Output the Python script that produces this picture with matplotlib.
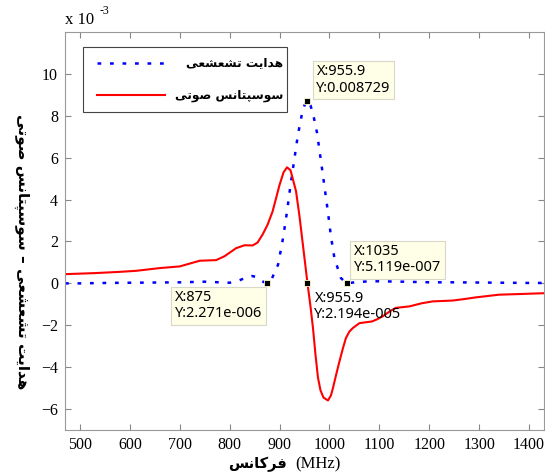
import matplotlib
matplotlib.use('agg')
import matplotlib.pyplot as plt
from matplotlib.lines import Line2D
from matplotlib.patches import Rectangle

# conductance (blue dotted) and susceptance (red), values in units of 1e-3
freq_g = [470, 500, 550, 600, 650, 700, 750, 780, 800, 820, 835, 845, 855, 865,
          875, 885, 897, 907, 915, 922, 927, 935, 940, 945, 950, 955.9, 962, 968,
          975, 985, 997, 1003, 1010, 1023, 1035, 1050, 1080, 1100, 1150, 1200,
          1250, 1300, 1350, 1400, 1430]
cond = [0.0, 0.0, 0.02, 0.03, 0.04, 0.05, 0.08, 0.05, 0.03, 0.15, 0.3, 0.35, 0.3, 0.1,
        0.002271, 0.25, 0.89, 2.16, 3.43, 4.7, 5.5, 6.8, 7.5, 8.1, 8.5, 8.729, 8.5, 8.0,
        7.2, 5.5, 3.4, 2.24, 1.2, 0.25, 0.0005119, 0.05, 0.1, 0.1, 0.08, 0.05,
        0.05, 0.04, 0.03, 0.02, 0.02]

freq_b = [470, 530, 580, 613, 660, 700, 740, 773, 790, 813, 830, 846, 856, 866, 876,
          886, 900, 908, 915, 922, 933, 940, 948, 955.9, 962, 967, 972, 977, 982, 988,
          997, 1003, 1007, 1013, 1020, 1027, 1033, 1040, 1047, 1060, 1075, 1085, 1095,
          1107, 1120, 1133, 1160, 1185, 1207, 1247, 1270, 1293, 1340, 1380, 1430]
susc = [0.44, 0.49, 0.55, 0.6, 0.73, 0.81, 1.08, 1.11, 1.3, 1.68, 1.82, 1.81, 1.95, 2.33, 2.8,
        3.43, 4.7, 5.3, 5.54, 5.4, 4.4, 3.2, 1.6, 0.02194, -1.1, -2.13, -3.4, -4.5, -5.1, -5.45,
        -5.59, -5.35, -5.0, -4.4, -3.73, -3.1, -2.61, -2.3, -2.13, -1.9, -1.85, -1.82, -1.72,
        -1.57, -1.35, -1.17, -1.1, -0.95, -0.86, -0.82, -0.75, -0.67, -0.54, -0.51, -0.47]

# data tips
tip_x = [875, 955.9, 955.9, 1035]
tip_y = [0.002271, 8.729, 0.02194, 0.0005119]
tip_text = ['X:875\nY:2.271e-006', 'X:955.9\nY:0.008729',
            'X:955.9\nY:2.194e-005', 'X:1035\nY:5.119e-007']

legend_labels = ['هدایت تشعشعی', 'سوسپتانس صوتی']
xlabel_fa = 'فرکانس'
ylabel_fa = 'هدایت تشعشعی – سوسپتانس صوتی'

xticks = [500, 600, 700, 800, 900, 1000, 1100, 1200, 1300, 1400]
yticks = [-6, -4, -2, 0, 2, 4, 6, 8, 10]

# minimal persian shaping: presentation forms (iso, fin, ini, med), visual order
FORMS = {
    '\u0627': (0xFE8D, 0xFE8E, None, None),
    '\u062f': (0xFEA9, 0xFEAA, None, None),
    '\u0631': (0xFEAD, 0xFEAE, None, None),
    '\u0648': (0xFEED, 0xFEEE, None, None),
    '\u0647': (0xFEE9, 0xFEEA, 0xFEEB, 0xFEEC),
    '\u062a': (0xFE95, 0xFE96, 0xFE97, 0xFE98),
    '\u0633': (0xFEB1, 0xFEB2, 0xFEB3, 0xFEB4),
    '\u0634': (0xFEB5, 0xFEB6, 0xFEB7, 0xFEB8),
    '\u0635': (0xFEB9, 0xFEBA, 0xFEBB, 0xFEBC),
    '\u0639': (0xFEC9, 0xFECA, 0xFECB, 0xFECC),
    '\u0641': (0xFED1, 0xFED2, 0xFED3, 0xFED4),
    '\u0646': (0xFEE5, 0xFEE6, 0xFEE7, 0xFEE8),
    '\u067e': (0xFB56, 0xFB57, 0xFB58, 0xFB59),
    '\u06a9': (0xFB8E, 0xFB8F, 0xFB90, 0xFB91),
    '\u06cc': (0xFBFC, 0xFBFD, 0xFBFE, 0xFBFF),
}


def shape_fa(s):
    s = s.replace('\u064a', '\u06cc').replace('\u0649', '\u06cc').replace('\u0643', '\u06a9')
    out = []
    for i, c in enumerate(s):
        if c not in FORMS:
            out.append(c)
            continue
        iso, fin, ini, med = FORMS[c]
        prev = s[i - 1] if i > 0 else ''
        nxt = s[i + 1] if i + 1 < len(s) else ''
        jp = prev in FORMS and FORMS[prev][2] is not None
        jn = ini is not None and nxt in FORMS
        if jp and jn:
            g = med
        elif jn:
            g = ini
        elif jp:
            g = fin
        else:
            g = iso
        out.append(chr(g))
    return ''.join(reversed(out))


W, H = 545, 476
fig = plt.figure(figsize=(W / 100, H / 100), dpi=100)
ax = fig.add_axes([65 / W, 46 / H, 479 / W, 398 / H])

ax.plot(freq_g, cond, color='#0000ff', lw=1.8, ls=(0, (1.5, 3.5)))
ax.plot(freq_b, susc, color='#ff0000', lw=1.5)

ax.set_xlim(470, 1430)
ax.set_ylim(-7, 12)
ax.set_xticks(xticks)
ax.set_yticks(yticks)
ax.tick_params(direction='in', top=True, right=True, length=4, color='#888888',
               labelsize=11.5, pad=5)
for lab in ax.get_xticklabels() + ax.get_yticklabels():
    lab.set_family('Liberation Serif')
for sp in ax.spines.values():
    sp.set_color('#999999')
    sp.set_linewidth(0.8)

# data tips
offsets = [(-5, -7, 'right', 'top', True), (9, 5, 'left', 'bottom', True),
           (7, -8, 'left', 'top', False), (7, 8, 'left', 'bottom', True)]
for x, y, t, (dx, dy, ha, va, boxed) in zip(tip_x, tip_y, tip_text, offsets):
    ax.plot([x], [y], 's', color='black', ms=5, mec='#ffffcc', mew=0.6, zorder=5)
    bb = dict(boxstyle='square,pad=0.25', fc='#ffffe8', ec='#d8d8c8', lw=0.8) if boxed else None
    ax.annotate(t, xy=(x, y), xytext=(dx, dy), textcoords='offset pixels',
                ha=ha, va=va, multialignment='left', fontsize=10.5,
                family='Noto Sans', linespacing=1.1, bbox=bb, zorder=6)


# legend drawn by hand so the persian text can be right aligned
def axfrac(px, py):
    return (px - 65) / 479, (430 - py) / 398


x0, y0 = axfrac(83, 112)
x1, y1 = axfrac(287, 47)
ax.add_patch(Rectangle((x0, y0), x1 - x0, y1 - y0, transform=ax.transAxes,
                       fc='white', ec='#444444', lw=0.8, zorder=7))
styles = [dict(color='#0000ff', lw=1.8, ls=(0, (1.5, 3.5))), dict(color='#ff0000', lw=1.5)]
for k, (lab, st) in enumerate(zip(legend_labels, styles)):
    ly = [63, 95][k]
    a, b = axfrac(97, ly)
    c, _ = axfrac(165, ly)
    ax.add_line(Line2D([a, c], [b, b], transform=ax.transAxes, zorder=8, **st))
    tx, _ = axfrac(283, ly)
    ax.text(tx, b, shape_fa(lab), transform=ax.transAxes, ha='right', va='center',
            fontsize=8.8, family='DejaVu Sans', weight='bold', zorder=8)

# axis labels
fig.text(287 / W, 1 - 464 / H, shape_fa(xlabel_fa), ha='right', va='center',
         fontsize=10.5, family='DejaVu Sans', weight='bold')
fig.text(295 / W, 1 - 464 / H, '(MHz)', ha='left', va='center',
         fontsize=12, family='Liberation Serif')
fig.text(22 / W, 1 - 252 / H, shape_fa(ylabel_fa), ha='center', va='center',
         rotation=-90, fontsize=11, family='DejaVu Sans', weight='bold')

# exponent label
fig.text(65 / W, 1 - 24 / H, 'x 10', ha='left', va='baseline', fontsize=12,
         family='Liberation Serif')
fig.text(100 / W, 1 - 14 / H, '-3', ha='left', va='baseline', fontsize=8.5,
         family='Liberation Serif')

fig.savefig('out.png', dpi=100)
